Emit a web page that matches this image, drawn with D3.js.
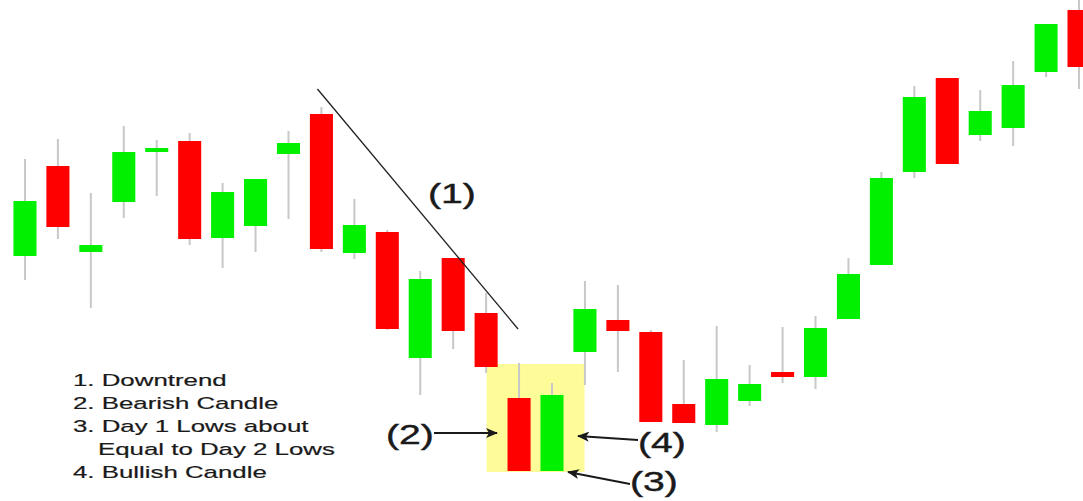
<!DOCTYPE html>
<html>
<head>
<meta charset="utf-8">
<script src="https://cdn.jsdelivr.net/npm/d3@7"></script>
<style>
  body { margin: 0; background: #fff; }
  svg { display: block; }
  text { font-family: "Liberation Sans", Arial, sans-serif; fill: #1a1a1a; }
</style>
</head>
<body>
<svg id="chart"></svg>
<script>
// candle values (arbitrary price units)
var opens  = [24.4, 33.4, 24.8, 29.8, 34.8, 35.9, 26.2, 27.4, 34.6, 38.6, 24.7,
              26.8, 14.2, 24.2, 18.7, 10.2,  2.9, 14.8, 18.0, 16.8,  9.6,  7.5,
               9.9, 12.8, 12.3, 18.1, 23.5, 32.8, 42.2, 36.5, 37.2, 42.8, 49.0];
var closes = [29.9, 27.3, 25.5, 34.8, 35.2, 26.1, 30.8, 32.1, 35.7, 25.1, 27.5,
              17.1, 22.1, 16.9, 13.3,  2.9, 10.5, 19.1, 16.9,  7.8,  7.7, 12.1,
              11.6, 12.3, 17.2, 22.6, 32.2, 40.3, 33.6, 38.9, 41.5, 47.6, 43.3];
var highs  = [34.1, 36.1, 30.7, 37.4, 36.0, 36.7, 31.7, 32.1, 36.9, 39.3, 30.1,
              27.0, 22.9, 24.2, 20.7, 13.7, 11.7, 21.9, 21.5, 17.0, 14.0, 17.4,
              13.5, 17.3, 18.4, 24.2, 32.8, 41.4, 42.2, 41.0, 43.9, 47.6, 50.0];
var lows   = [22.0, 26.1, 19.2, 28.2, 30.4, 25.5, 23.2, 24.8, 28.1, 24.8, 24.1,
              17.0, 10.5, 15.1, 12.7,  2.9,  2.9, 11.5, 12.8,  7.8,  7.7,  6.8,
               9.4, 11.7, 11.1, 18.1, 23.5, 32.2, 33.6, 35.9, 35.4, 42.3, 41.1];

var legendLines = ["1. Downtrend", "2. Bearish Candle", "3. Day 1 Lows about",
                   "Equal to Day 2 Lows", "4. Bullish Candle"];

var candles = opens.map(function(o, i) {
    return {i: i, open: o, close: closes[i], high: highs[i], low: lows[i]};
});

var width = 1083, height = 501;

var svg = d3.select("#chart")
    .attr("width", width)
    .attr("height", height);

var xScale = d3.scaleBand()
    .domain(d3.range(candles.length))
    .range([8.5, 1095.5])
    .paddingInner(0.3)
    .paddingOuter(0.15);

var yScale = d3.scaleLinear()
    .domain([0, 50])
    .range([500, 0]);

function cx(i) { return xScale(i) + xScale.bandwidth() / 2; }

// highlight box around the two pattern candles (index 15 and 16)
svg.append("rect")
    .attr("x", xScale(15) - 21)
    .attr("y", yScale(13.6))
    .attr("width", xScale(16) + xScale.bandwidth() + 21 - (xScale(15) - 21))
    .attr("height", yScale(2.8) - yScale(13.6))
    .style("fill", "#fdfc98");

var g = svg.selectAll(".candle")
    .data(candles)
    .enter().append("g")
    .attr("class", "candle");

g.append("line")
    .attr("x1", function(d) { return cx(d.i); })
    .attr("x2", function(d) { return cx(d.i); })
    .attr("y1", function(d) { return yScale(d.high); })
    .attr("y2", function(d) { return yScale(d.low); })
    .style("stroke", "#c8c8c8")
    .style("stroke-width", 2);

g.append("rect")
    .attr("x", function(d) { return xScale(d.i); })
    .attr("width", xScale.bandwidth())
    .attr("y", function(d) { return yScale(Math.max(d.open, d.close)); })
    .attr("height", function(d) { return Math.max(4, Math.abs(yScale(d.open) - yScale(d.close))); })
    .style("fill", function(d) { return d.close >= d.open ? "#00f000" : "#ff0000"; });

// downtrend line (1)
svg.append("line")
    .attr("x1", cx(9) - 4).attr("y1", yScale(41.1))
    .attr("x2", cx(15) - 1).attr("y2", yScale(17.1))
    .style("stroke", "#222")
    .style("stroke-width", 1.3);

svg.append("defs").append("marker")
    .attr("id", "arrow")
    .attr("viewBox", "0 0 12 10")
    .attr("refX", 11)
    .attr("refY", 5)
    .attr("markerWidth", 12)
    .attr("markerHeight", 10)
    .attr("markerUnits", "userSpaceOnUse")
    .attr("orient", "auto")
    .append("path")
    .attr("d", "M0,0 L12,5 L0,10 L3,5 Z")
    .style("fill", "#1a1a1a");

var arrows = [
    {x1: 434, y1: 433, x2: 497, y2: 433},
    {x1: 638, y1: 440, x2: 578, y2: 436},
    {x1: 630, y1: 484, x2: 568, y2: 472}
];

svg.selectAll(".arrow")
    .data(arrows)
    .enter().append("line")
    .attr("class", "arrow")
    .attr("x1", function(d) { return d.x1; })
    .attr("y1", function(d) { return d.y1; })
    .attr("x2", function(d) { return d.x2; })
    .attr("y2", function(d) { return d.y2; })
    .style("stroke", "#1a1a1a")
    .style("stroke-width", 2)
    .attr("marker-end", "url(#arrow)");

// the source picture is stretched sideways, so the text is too
var labels = [
    {t: "(1)", x: 428, y: 203},
    {t: "(2)", x: 386, y: 444},
    {t: "(4)", x: 638, y: 452},
    {t: "(3)", x: 630, y: 491}
];

svg.selectAll(".lab")
    .data(labels)
    .enter().append("text")
    .attr("class", "lab")
    .attr("transform", function(d) { return "translate(" + d.x + "," + d.y + ") scale(1.45,1)"; })
    .style("font-size", "27px")
    .style("stroke", "#1a1a1a")
    .style("stroke-width", 0.4)
    .text(function(d) { return d.t; });

svg.selectAll(".legend")
    .data(legendLines)
    .enter().append("text")
    .attr("class", "legend")
    .attr("transform", function(d, i) {
        return "translate(" + (i === 3 ? 98 : 73) + "," + (386 + i * 23) + ") scale(1.52,1)";
    })
    .style("font-size", "17px")
    .style("stroke", "#1a1a1a")
    .style("stroke-width", 0.2)
    .text(function(d) { return d; });
</script>
</body>
</html>
